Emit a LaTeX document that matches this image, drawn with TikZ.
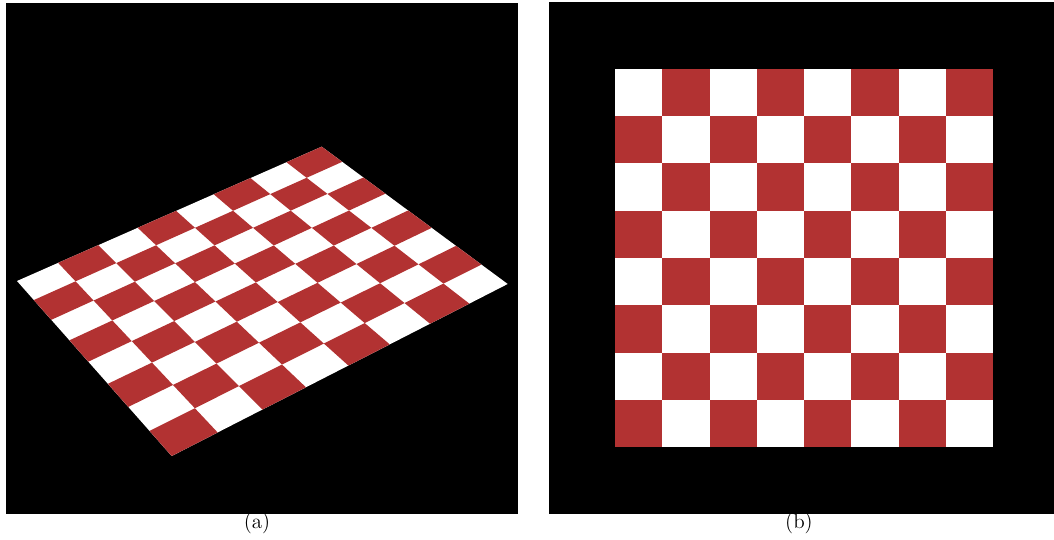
\documentclass[tikz,border=0pt]{standalone}
\usetikzlibrary{calc}
\definecolor{chkred}{HTML}{B23232}

\begin{document}
\begin{tikzpicture}[x=0.02cm, y=-0.02cm,
    panel/.style={fill=black},
    redcell/.style={fill=chkred},
    subcap/.style={font=\large, inner sep=1pt},
  ]
  \useasboundingbox (0,0) rectangle (1054,540);

  % black backgrounds
  \fill[panel] (6,3) rectangle (518,514);
  \fill[panel] (549,2) rectangle (1054,514);

  % (a) board seen at an angle, corners in px/100
  \def\xa{0.17}  \def\ya{2.81}   % left
  \def\xb{3.217} \def\yb{1.467}  % top
  \def\xc{5.077} \def\yc{2.84}   % right
  \def\xd{1.717} \def\yd{4.56}   % bottom
  \pgfmathsetmacro\dxa{\xb-\xc}
  \pgfmathsetmacro\dxb{\xd-\xc}
  \pgfmathsetmacro\dxc{\xa-\xb+\xc-\xd}
  \pgfmathsetmacro\dya{\yb-\yc}
  \pgfmathsetmacro\dyb{\yd-\yc}
  \pgfmathsetmacro\dyc{\ya-\yb+\yc-\yd}
  \pgfmathsetmacro\den{\dxa*\dyb-\dxb*\dya}
  \pgfmathsetmacro\kg{(\dxc*\dyb-\dxb*\dyc)/\den}
  \pgfmathsetmacro\kh{(\dxa*\dyc-\dxc*\dya)/\den}
  \pgfmathsetmacro\ka{\xb-\xa+\kg*\xb}
  \pgfmathsetmacro\kb{\xd-\xa+\kh*\xd}
  \pgfmathsetmacro\kd{\yb-\ya+\kg*\yb}
  \pgfmathsetmacro\ke{\yd-\ya+\kh*\yd}

  \foreach \i in {0,...,8}
    \foreach \j in {0,...,8} {
      \pgfmathsetmacro\w{1+\kg*\i/8+\kh*\j/8}
      \coordinate (p-\i-\j) at ({100*(\ka*\i/8+\kb*\j/8+\xa)/\w},
                                {100*(\kd*\i/8+\ke*\j/8+\ya)/\w});
    }

  \fill[white] (p-0-0) -- (p-8-0) -- (p-8-8) -- (p-0-8) -- cycle;
  \foreach \i in {0,...,7}
    \foreach \j in {0,...,7} {
      \ifodd\numexpr\i+\j\relax
        \pgfmathtruncatemacro\ii{\i+1}
        \pgfmathtruncatemacro\jj{\j+1}
        \fill[redcell] (p-\i-\j) -- (p-\ii-\j) -- (p-\ii-\jj) -- (p-\i-\jj) -- cycle;
      \fi
    }

  % (b) board seen from above
  \fill[white] (615,69) rectangle (993,447);
  \foreach \i in {0,...,7}
    \foreach \j in {0,...,7} {
      \ifodd\numexpr\i+\j\relax
        \fill[redcell] ({615+47.25*\i},{69+47.25*\j}) rectangle +(47.25,47.25);
      \fi
    }

  \node[subcap] (capa) at (257,523) {(a)};
  \node[subcap] (capb) at (799,523) {(b)};
\end{tikzpicture}
\end{document}
